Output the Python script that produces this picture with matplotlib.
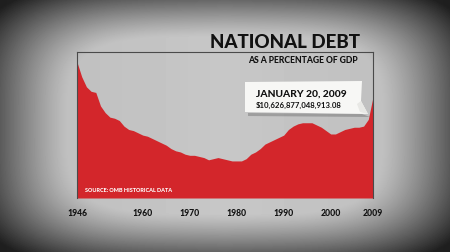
import numpy as np
import matplotlib
matplotlib.use("Agg")
import matplotlib.pyplot as plt
from matplotlib.patches import Polygon

# ---- data ----
years = list(range(1946, 2010))
debt_pct = [121, 108, 99, 95, 94, 82, 76, 72, 71, 69,
            64, 61, 60, 58, 56, 55, 53, 51, 49, 47,
            44, 42, 41, 39, 38, 38, 37, 36, 34, 35,
            36, 35, 34, 33, 33, 33, 35, 39, 41, 44,
            48, 50, 52, 54, 56, 61, 64, 66, 67, 67,
            67, 65, 63, 60, 57, 57, 59, 61, 62, 63,
            63, 64, 70, 90]
tick_years = [1946, 1960, 1970, 1980, 1990, 2000, 2009]
tick_labels = ["1946", "1960", "1970", "1980", "1990", "2000", "2009"]
title = "NATIONAL DEBT"
subtitle = "AS A PERCENTAGE OF GDP"
callout_date = "JANUARY 20, 2009"
callout_amount = "$10,626,877,048,913.08"
source = "SOURCE: OMB HISTORICAL DATA"

W, H = 450, 253
FONT = ["Lato", "DejaVu Sans"]

fig = plt.figure(figsize=(W / 100, H / 100), dpi=100)

def fx(x):
    return x / W

def fy(y):
    return 1 - y / H

# ---- vignette background ----
bg = fig.add_axes([0, 0, 1, 1])
u = np.linspace(-1, 1, W)
v = np.linspace(-1, 1, H)
U, V = np.meshgrid(u, v)
d = (np.abs(U) ** 4 + np.abs(V) ** 4) ** 0.25
bright = 0.78 - 0.62 * np.clip((d - 0.70) / 0.45, 0, 1) ** 1.2
bright = bright - 0.04 * np.abs(U)
bg.imshow(bright, cmap="gray", vmin=0, vmax=1, aspect="auto",
          extent=[0, 1, 0, 1], interpolation="bilinear")
bg.set_axis_off()

# ---- main area chart ----
L, R, T, B = 77, 373, 53, 199
ax = fig.add_axes([fx(L), fy(B), (R - L) / W, (B - T) / H])
ax.patch.set_alpha(0)
ax.fill_between(years, debt_pct, 0, color="#d3262b", lw=0)
ax.set_xlim(1946, 2009)
ax.set_ylim(0, 130)
ax.set_yticks([])
ax.set_xticks(tick_years)
ax.set_xticklabels(tick_labels, fontfamily=FONT, fontweight=900,
                   fontsize=6.2, color="#111111")
ax.tick_params(axis="x", length=0, pad=7)
for s in ["top", "left", "right"]:
    ax.spines[s].set_color("#4a4a4a")
    ax.spines[s].set_linewidth(0.8)
ax.spines["bottom"].set_visible(False)

ax.text(0.028, 0.05, source, transform=ax.transAxes, color="white",
        fontsize=4.0, fontweight=900, fontfamily=FONT, va="baseline")

# ---- titles ----
fig.text(fx(360), fy(48), title, ha="right", va="baseline",
         fontsize=13.5, fontweight=900, fontfamily=FONT, color="#111111")
fig.text(fx(358), fy(63), subtitle, ha="right", va="baseline",
         fontsize=6.2, fontweight=900, fontfamily=FONT, color="#111111")

# ---- callout ribbon ----
shadow = Polygon([(fx(248), fy(114)), (fx(362), fy(115)), (fx(370), fy(118)),
                  (fx(248), fy(117))], closed=True, transform=fig.transFigure,
                 facecolor="#444444", alpha=0.3, lw=0)
fig.add_artist(shadow)
box = Polygon([(fx(245), fy(83)), (fx(362), fy(82)), (fx(361), fy(102)),
               (fx(368), fy(115)), (fx(245), fy(113))], closed=True,
              transform=fig.transFigure, facecolor="#f7f7f5", lw=0)
fig.add_artist(box)
fold = Polygon([(fx(357), fy(105)), (fx(361), fy(102)), (fx(368), fy(115)),
                (fx(360), fy(113))], closed=True, transform=fig.transFigure,
               facecolor="#e8e8e5", lw=0)
fig.add_artist(fold)
fig.text(fx(256), fy(97), callout_date, ha="left", va="baseline",
         fontsize=7.4, fontweight=900, fontfamily=FONT, color="#111111")
fig.text(fx(256), fy(107.5), callout_amount, ha="left", va="baseline",
         fontsize=5.6, fontweight="bold", fontfamily=FONT, color="#111111")

fig.savefig("out.png", dpi=100)
